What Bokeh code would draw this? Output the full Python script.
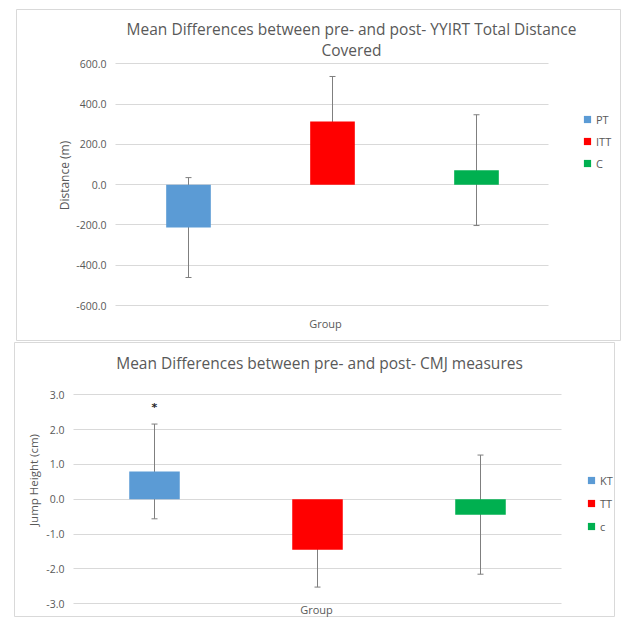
from bokeh.plotting import figure
from bokeh.models import (ColumnDataSource, Whisker, Range1d, Label,
                          Legend, LegendItem, TeeHead, FixedTicker,
                          NumeralTickFormatter)
from bokeh.embed import file_html
from bokeh.resources import INLINE
from bokeh.core.properties import value

# ---- data: top chart (YYIRT total distance) ----
top_title_1 = "Mean Differences between pre- and post- YYIRT Total Distance"
top_title_2 = "Covered"
top_groups = ["PT", "ITT", "C"]
top_means = [-213.0, 313.0, 72.0]
top_errors = [248.0, 224.0, 275.0]
top_ticks = [-600, -400, -200, 0, 200, 400, 600]
top_ylabel = "Distance (m)"

# ---- data: bottom chart (CMJ) ----
bot_title = "Mean Differences between pre- and post- CMJ measures"
bot_groups = ["KT", "TT", "c"]
bot_means = [0.80, -1.45, -0.44]
bot_errors = [1.36, 1.07, 1.71]
bot_sig = ["*", "", ""]
bot_sig_y = [2.63, 0.0, 0.0]
bot_ticks = [-3, -2, -1, 0, 1, 2, 3]
bot_ylabel = "Jump Height (cm)"

xlabel = "Group"
colors = ["#5B9BD5", "#FF0000", "#00B050"]

FONT = "Open Sans"
TXT = "#595959"
GRID = "#D9D9D9"
BORDER = "#D9D9D9"


def make_chart(groups, means, errors, ticks, width, height, margin,
               x0_px, cat_px, area_px, y_hi_px, y_lo_px, ylabel,
               titles, title_x, title_ys, group_xy, leg_xy, leg_spacing,
               ylabel_size, ylabel_standoff):
    # layout geometry (canvas pixels): category i spans x0_px + cat_px*[i, i+1]
    n = len(groups)
    y_hi, y_lo = ticks[-1], ticks[0]
    ppu = (y_lo_px - y_hi_px) / (y_hi - y_lo)
    xr = (-x0_px / cat_px, (width - x0_px) / cat_px)
    yr = (y_lo - (height - y_lo_px) / ppu, y_hi + y_hi_px / ppu)
    area_left = (area_px[0] - x0_px) / cat_px
    area_right = (area_px[1] - x0_px) / cat_px

    xs = [i + 0.5 for i in range(n)]
    src = ColumnDataSource(dict(
        x=xs, g=groups, m=means, c=colors,
        up=[a + b for a, b in zip(means, errors)],
        lo=[a - b for a, b in zip(means, errors)],
    ))
    p = figure(x_range=Range1d(*xr), y_range=Range1d(*yr),
               width=width, height=height, output_backend="svg",
               toolbar_location=None, title=None, min_border=0,
               min_border_left=0, min_border_right=0,
               min_border_top=0, min_border_bottom=0, margin=margin)
    p.outline_line_color = BORDER
    p.outline_line_width = 1
    p.background_fill_color = "white"
    p.border_fill_color = "white"
    p.xaxis.visible = False
    p.xgrid.grid_line_color = None
    g = p.ygrid[0]
    g.grid_line_color = GRID
    g.ticker = FixedTicker(ticks=ticks)
    if "cross_bounds" in g.properties():
        g.cross_bounds = (area_left, area_right)

    ax = p.yaxis[0]
    ax.fixed_location = area_left
    ax.ticker = FixedTicker(ticks=ticks)
    ax.formatter = NumeralTickFormatter(format="0.0")
    ax.axis_line_color = None
    ax.major_tick_line_color = None
    ax.major_tick_out = 0
    ax.major_tick_in = 0
    ax.minor_tick_line_color = None
    ax.major_label_text_font = FONT
    ax.major_label_text_font_size = "10.5px"
    ax.major_label_text_color = TXT
    ax.major_label_standoff = 9
    ax.axis_label = ylabel
    ax.axis_label_text_font = FONT
    ax.axis_label_text_font_size = ylabel_size
    ax.axis_label_text_font_style = "normal"
    ax.axis_label_text_color = TXT
    ax.axis_label_standoff = ylabel_standoff

    p.vbar(x="x", top="m", bottom=0, width=0.31, fill_color="c", line_color=None,
           source=src)
    w = Whisker(base="x", upper="up", lower="lo", source=src,
                line_color="#7F7F7F", line_width=1,
                upper_head=TeeHead(size=6, line_color="#7F7F7F", line_width=1),
                lower_head=TeeHead(size=6, line_color="#7F7F7F", line_width=1))
    p.add_layout(w)

    # legend proxies (not drawn: y is NaN)
    items = []
    for x, gname, c in zip(xs, groups, colors):
        r = p.scatter(x=[x], y=[float("nan")], marker="square", size=7,
                      fill_color=c, line_color=None)
        items.append(LegendItem(label=gname, renderers=[r]))
    leg = Legend(items=items, location=leg_xy, orientation="vertical",
                 glyph_width=18, glyph_height=18, label_height=18,
                 label_standoff=0, spacing=leg_spacing, padding=0, margin=0,
                 border_line_color=None, background_fill_alpha=0,
                 label_text_font=FONT, label_text_font_size="11px",
                 label_text_color=TXT)
    p.add_layout(leg)

    for t, ty in zip(titles, title_ys):
        p.add_layout(Label(x=title_x, y=ty, x_units="canvas", y_units="canvas",
                           text=t, text_align="center", text_baseline="middle",
                           text_font=FONT, text_font_size="15.5px",
                           text_color=TXT))
    p.add_layout(Label(x=group_xy[0], y=group_xy[1], x_units="canvas",
                       y_units="canvas", text=xlabel, text_align="center",
                       text_baseline="middle", text_font=FONT,
                       text_font_size="11px", text_color=TXT))
    return p, xs


# top panel: canvas at page (16, 9), 605 x 332
p1, _ = make_chart(top_groups, top_means, top_errors, top_ticks,
                   605, 332, (9, 0, 0, 16),
                   x0_px=100, cat_px=144, area_px=(99, 532),
                   y_hi_px=54.3, y_lo_px=296.0, ylabel=top_ylabel,
                   titles=[top_title_1, top_title_2], title_x=335,
                   title_ys=[19, 40], group_xy=(309, 314),
                   leg_xy=(562, 169), leg_spacing=4, ylabel_size="12px",
                   ylabel_standoff=0)

# bottom panel: canvas at page (14, 342), 601 x 275
p2, bxs = make_chart(bot_groups, bot_means, bot_errors, bot_ticks,
                     601, 275, (1, 0, 0, 14),
                     x0_px=58.5, cat_px=163, area_px=(59, 547),
                     y_hi_px=52.3, y_lo_px=261.3, ylabel=bot_ylabel,
                     titles=[bot_title], title_x=305, title_ys=[20],
                     group_xy=(302, 267), leg_xy=(568, 82), leg_spacing=5,
                     ylabel_size="11.5px", ylabel_standoff=2)
sig_src = ColumnDataSource(dict(x=bxs, y=bot_sig_y, t=bot_sig))
p2.text(x="x", y="y", text="t", source=sig_src, text_align="center",
        text_baseline="middle", text_font=value("DejaVu Sans"),
        text_font_size="11px", text_font_style="bold", text_color="#262626")

open("out.html", "w").write(file_html([p1, p2], INLINE))
